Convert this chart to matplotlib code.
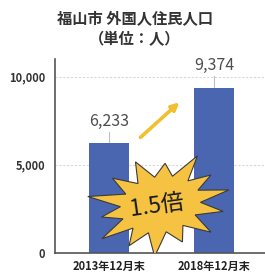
import numpy as np
import matplotlib.pyplot as plt
from matplotlib.patches import Polygon, FancyArrowPatch

plt.rcParams['font.family'] = ['Noto Sans CJK JP', 'DejaVu Sans']

categories = ["2013年12月末", "2018年12月末"]
values = [6233, 9374]
yticks = [0, 5000, 10000]
ytick_labels = ["0", "5,000", "10,000"]
ratio_label = "1.5倍"

fig = plt.figure(figsize=[2.65, 2.76], dpi=100)
W, H = 265, 276
# axes in pixel terms: left 55, right 268, bottom 253, top 59
ax = fig.add_axes([55 / W, 1 - 253 / H, (268 - 55) / W, (253 - 59) / H])

x = np.arange(len(categories))
ax.bar(x, values, width=0.38, color="#4a66b0", zorder=2)
ax.set_xlim(-0.514, 1.514)
ax.set_ylim(0, 11000)

for v in [5000, 10000]:
    ax.axhline(v, color="#d9d9d9", lw=0.8, ls=(0, (2, 1.5)), zorder=1)

ax.set_yticks(yticks)
ax.set_yticklabels(ytick_labels, fontsize=8, color="#333333", fontweight="bold")
ax.set_xticks(x)
ax.set_xticklabels(categories, fontsize=8, fontweight="bold", color="#222222")
ax.tick_params(length=0, pad=7)
ax.tick_params(axis="x", pad=5)
for s in ["top", "right"]:
    ax.spines[s].set_visible(False)
ax.spines["left"].set_color("#555555")
ax.spines["bottom"].set_color("#555555")
ax.spines["left"].set_linewidth(1.2)
ax.spines["bottom"].set_linewidth(1.2)

# value labels with short leader lines
for xi, v in zip(x, values):
    ax.plot([xi, xi], [v, v + 650], color="#bfbfbf", lw=0.8, zorder=1)
    ax.text(xi, v + 1250, f"{v:,}", ha="center", va="center",
            fontsize=11.5, color="#4d4d4d")

# yellow arrow
arr = FancyArrowPatch((0.28, 6450), (0.69, 8650), arrowstyle="-|>",
                      mutation_scale=11, color="#f0c030", lw=2.6, zorder=4)
ax.add_patch(arr)

# starburst
cx, cy = 0.49, 2750
radii_out = [1.0, 0.88, 1.06, 0.84, 1.0, 0.95, 1.1, 0.86, 1.02, 0.9, 1.06, 0.88, 1.0, 0.95]
n = len(radii_out)
pts = []
rot = np.deg2rad(12)
for i in range(n * 2):
    a = np.pi * i / n
    if i % 2 == 0:
        r = radii_out[i // 2]
    else:
        r = 0.58
    px, py = 70 * r * np.cos(a), 48 * r * np.sin(a)
    qx = px * np.cos(rot) - py * np.sin(rot)
    qy = px * np.sin(rot) + py * np.cos(rot)
    pts.append((cx + qx / 105, cy + qy * 5000 / 88))
star = Polygon(pts, closed=True, facecolor="#f5c242", edgecolor="#3a3a3a",
               lw=0.8, zorder=5)
ax.add_patch(star)
ax.text(cx - 0.03, cy - 80, ratio_label, ha="center", va="center", fontsize=16.5,
        rotation=8, color="#1a1a1a", zorder=6)

fig.text(135 / W, 1 - 18 / H, "福山市 外国人住民人口", ha="center", va="center",
         fontsize=11, fontweight="bold", color="#333333")
fig.text(135 / W, 1 - 39 / H, "（単位：人）", ha="center", va="center",
         fontsize=11, fontweight="bold", color="#333333")

fig.savefig("out.png", dpi=100)
